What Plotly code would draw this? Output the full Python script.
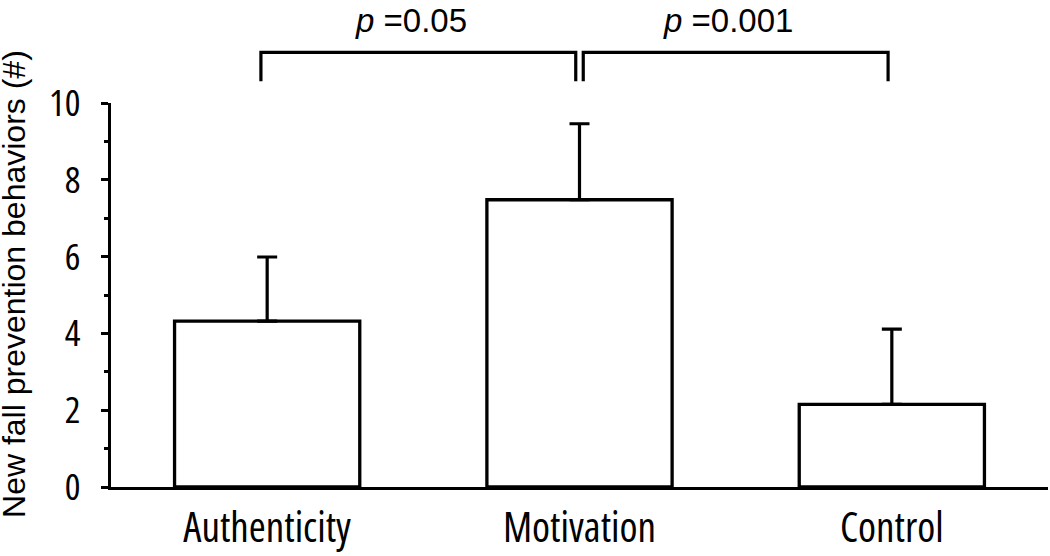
import plotly.graph_objects as go

# values
groups = ["Authenticity", "Motivation", "Control"]
means = [4.32, 7.48, 2.15]
sd = [1.67, 1.98, 1.96]

# significance brackets: (from group, to group, label)
comparisons = [(0, 1, "<i>p</i> =0.05"), (1, 2, "<i>p</i> =0.001")]

y_ticks = [0, 2, 4, 6, 8, 10]
y_title = "New fall prevention behaviors (#)"

font = "Open Sans, sans-serif"
plain = "Liberation Sans, Arial, sans-serif"
black = "#000000"


def narrow(s):
    # Open Sans has a condensed face, picked through font-stretch
    return f"<span style='font-stretch:condensed'>{s}</span>"


fig = go.Figure()
fig.add_trace(
    go.Bar(
        x=list(range(len(groups))),
        y=means,
        width=0.593,
        marker=dict(color="white", line=dict(color=black, width=3.3)),
        error_y=dict(
            type="data",
            symmetric=False,
            array=sd,
            arrayminus=[0] * len(sd),
            color=black,
            thickness=3.2,
            width=10,
        ),
        showlegend=False,
    )
)

# brackets above the bars
gap = 0.012
for a, b, label in comparisons:
    x0 = a + (gap if a > 0 else -0.02)
    x1 = b - (gap if b < len(groups) - 1 else 0.012)
    fig.add_shape(
        type="path",
        xref="x", yref="paper",
        path=f"M {x0} 1.0565 L {x0} 1.132 L {x1} 1.132 L {x1} 1.0565",
        line=dict(color=black, width=3.2),
    )
    fig.add_annotation(
        x=(x0 + x1) / 2 - 0.025, y=1.215,
        xref="x", yref="paper",
        text=label, showarrow=False,
        xanchor="center", yanchor="middle",
        font=dict(family=plain, size=33, color=black),
    )

# y axis title placed by hand (sits a bit above the plot centre)
fig.add_annotation(
    x=-0.103, y=0.53, xref="paper", yref="paper",
    text=y_title, textangle=-90, showarrow=False,
    xanchor="center", yanchor="middle",
    font=dict(family=plain, size=32, color=black),
)

fig.update_xaxes(
    range=[-0.5, 2.5],
    tickmode="array",
    tickvals=list(range(len(groups))),
    ticktext=[narrow(g) for g in groups],
    ticks="",
    ticklabelstandoff=3,
    automargin=False,
    showline=True, linecolor=black, linewidth=3.3,
    showgrid=False, zeroline=False,
    tickfont=dict(family=font, size=41, color=black),
)
fig.update_yaxes(
    range=[0, 10],
    tickmode="array",
    tickvals=y_ticks,
    ticktext=[narrow(str(t)) for t in y_ticks],
    ticks="outside", ticklen=7, tickwidth=2.8, tickcolor=black,
    minor=dict(dtick=1, ticks="outside", ticklen=4, tickwidth=2.8, tickcolor=black),
    ticklabelstandoff=13,
    automargin=False,
    showline=True, linecolor=black, linewidth=3.3,
    showgrid=False, zeroline=False,
    tickfont=dict(family=font, size=37, color=black),
)

fig.update_layout(
    width=1050, height=556,
    margin=dict(l=111, r=2, t=103, b=69),
    plot_bgcolor="white", paper_bgcolor="white",
    bargap=0.4,
)

# drop the default 8px body margin so the figure fills the window
fig.write_html(
    "out.html",
    config={"displayModeBar": False},
    post_script="document.body.style.margin = '0';",
)
